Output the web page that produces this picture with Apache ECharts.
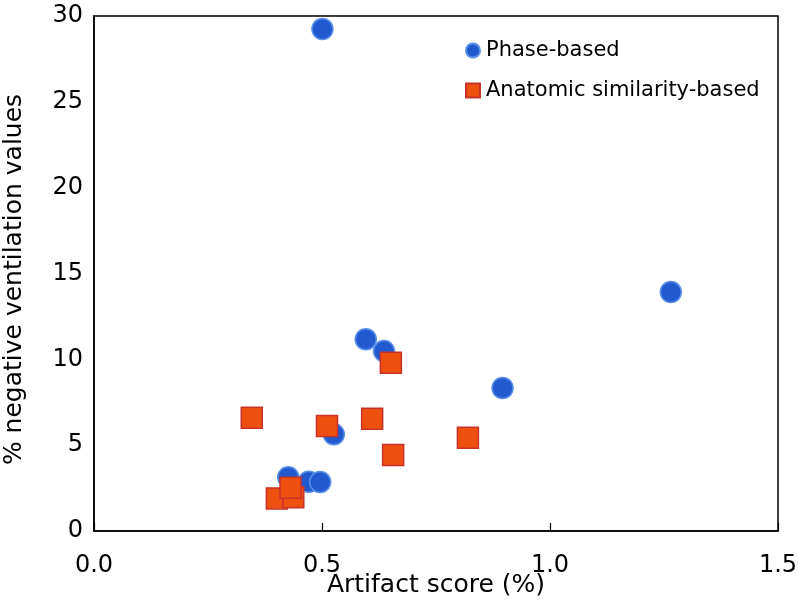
<!DOCTYPE html>
<html>
<head>
<meta charset="utf-8">
<script src="https://cdn.jsdelivr.net/npm/echarts@6/dist/echarts.min.js"></script>
<style>html,body{margin:0;padding:0;background:#fff;}#c{width:798px;height:616px;}</style>
</head>
<body>
<div id="c"></div>
<script>
const seriesNames = ['Phase-based', 'Anatomic similarity-based'];
const phaseX = [0.501, 1.265, 0.596, 0.636, 0.896, 0.526, 0.426, 0.471, 0.496];
const phaseY = [29.24, 13.92, 11.17, 10.48, 8.33, 5.63, 3.13, 2.87, 2.85];
const anatX = [0.651, 0.346, 0.511, 0.610, 0.820, 0.656, 0.401, 0.437, 0.431];
const anatY = [9.80, 6.60, 6.12, 6.54, 5.43, 4.43, 1.90, 1.96, 2.52];
const xTicks = ['0.0', '0.5', '1.0', '1.5'];
const yTicks = ['0', '5', '10', '15', '20', '25', '30'];

const zip = (a, b) => a.map((v, i) => [v, b[i]]);
const font = 'DejaVu Sans, Liberation Sans, Arial, sans-serif';

const chart = echarts.init(document.getElementById('c'), null, {renderer: 'canvas'});
chart.setOption({
  animation: false,
  backgroundColor: '#fff',
  grid: {left: 94, right: 20, top: 16, bottom: 85, containLabel: false, outerBoundsMode: 'none',
    show: true, borderColor: '#000', borderWidth: 1.5, backgroundColor: 'transparent'},
  legend: {
    orient: 'vertical', left: 460, top: 35, itemGap: 19, itemWidth: 14, itemHeight: 14,
    textStyle: {fontFamily: font, fontSize: 21, color: '#000', padding: [0, 0, 0, 1]},
    data: [{name: seriesNames[0], icon: 'circle'}, {name: seriesNames[1], icon: 'rect'}]
  },
  xAxis: {
    type: 'value', min: 0, max: 1.5, interval: 0.5,
    name: 'Artifact score (%)', nameLocation: 'middle', nameGap: 42, nameMoveOverlap: false,
    nameTextStyle: {fontFamily: font, fontSize: 25, color: '#000', verticalAlign: 'top'},
    axisLine: {show: true, lineStyle: {color: '#000', width: 1.5}},
    axisTick: {show: true, inside: true, length: 8, lineStyle: {color: '#000', width: 1.2}},
    axisLabel: {fontFamily: font, fontSize: 24, color: '#000', margin: 23,
      formatter: v => xTicks[Math.round(v / 0.5)]},
    splitLine: {show: false}
  },
  yAxis: {
    type: 'value', min: 0, max: 30, interval: 5,
    name: '% negative ventilation values', nameLocation: 'middle', nameGap: 67, nameMoveOverlap: false,
    nameTextStyle: {fontFamily: font, fontSize: 25, color: '#000', padding: [0, 12, 0, 0]},
    axisLine: {show: true, lineStyle: {color: '#000', width: 1.5}},
    axisTick: {show: false},
    axisLabel: {fontFamily: font, fontSize: 24, color: '#000', margin: 11,
      formatter: v => yTicks[Math.round(v / 5)]},
    splitLine: {show: false}
  },
  series: [
    {
      name: seriesNames[0], type: 'scatter', symbol: 'circle', symbolSize: 21,
      itemStyle: {color: '#2259cf', borderColor: '#5a8fe8', borderWidth: 1.5, opacity: 1},
      data: zip(phaseX, phaseY), z: 2
    },
    {
      name: seriesNames[1], type: 'scatter', symbol: 'rect', symbolSize: 21,
      itemStyle: {color: '#ee5010', borderColor: '#c8322a', borderWidth: 1.5, opacity: 1},
      data: zip(anatX, anatY), z: 3
    }
  ]
});
</script>
</body>
</html>
